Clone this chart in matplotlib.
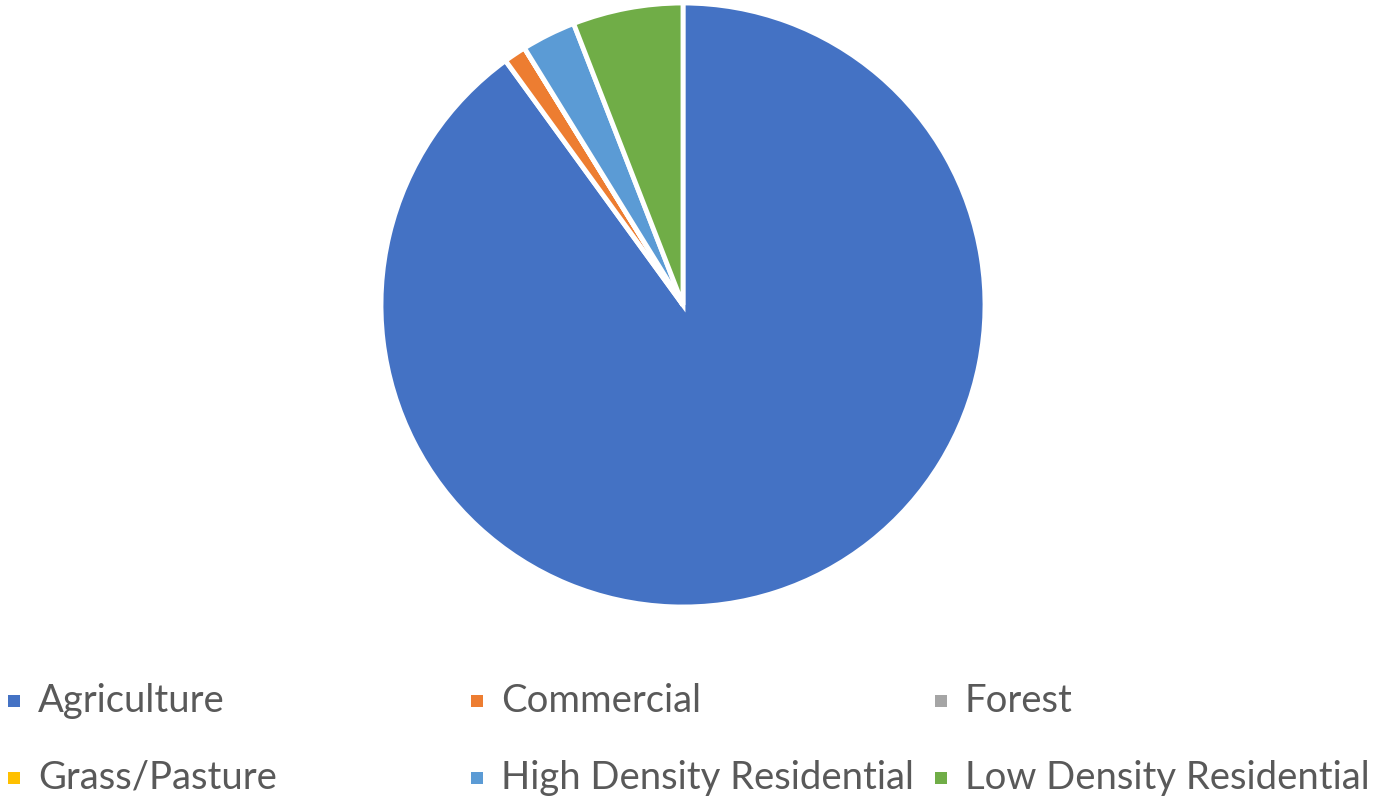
import matplotlib
matplotlib.use('Agg')
import matplotlib.pyplot as plt
from matplotlib.patches import Rectangle

# land use shares (%)
labels = ['Agriculture', 'Commercial', 'Forest', 'Grass/Pasture',
          'High Density Residential', 'Low Density Residential']
shares = [90.0, 1.2, 0.0, 0.0, 2.9, 5.9]
colors = ['#4472C4', '#ED7D31', '#A5A5A5', '#FFC000', '#5B9BD5', '#70AD47']

W, H = 1373, 801
fig = plt.figure(figsize=(W / 100, H / 100), dpi=100)

# pie: centre (683, 305) px, radius ~303 px
cx, cy, r = 683, 305, 302
ax = fig.add_axes([(cx - r) / W, (H - cy - r) / H, 2 * r / W, 2 * r / H])
ax.pie(shares, colors=colors, startangle=90, counterclock=False, radius=1,
       wedgeprops=dict(edgecolor='white', linewidth=3.5))
ax.set_xlim(-1, 1)
ax.set_ylim(-1, 1)
ax.set_aspect('equal')
ax.axis('off')

# legend laid out like the spreadsheet one: 3 equal columns, 2 rows
col_x = [8, 471, 935]
row_y = [701, 778]
for i, (lab, col) in enumerate(zip(labels, colors)):
    x0 = col_x[i % 3]
    y0 = row_y[i // 3]
    fig.add_artist(Rectangle((x0 / W, (H - y0 - 6) / H), 12 / W, 12 / H,
                             transform=fig.transFigure, color=col, lw=0))
    fig.text((x0 + 30) / W, (H - y0) / H, lab, fontsize=27.5, family='Lato',
             color='#595959', va='center', ha='left')

fig.savefig('out.png', dpi=100)
